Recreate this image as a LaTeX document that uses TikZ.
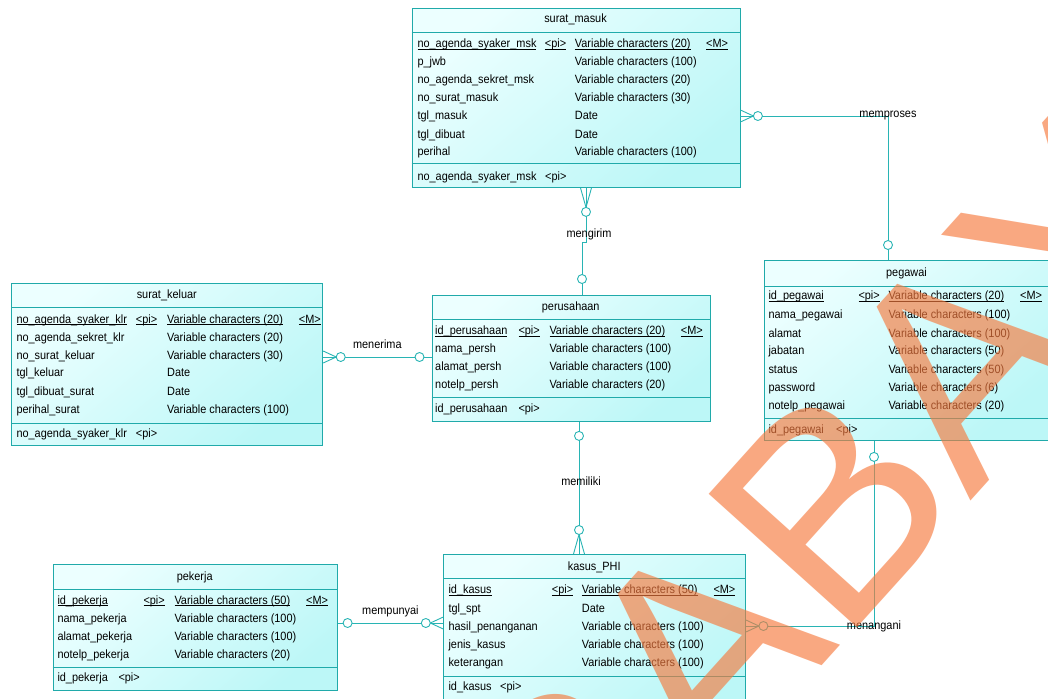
\documentclass[tikz,border=0pt]{standalone}
\usepackage{fontspec}
\setmainfont{Liberation Sans}[FakeStretch=0.91]
\newfontfamily\wmfont{Liberation Sans}
\usetikzlibrary{calc}
\definecolor{edgec}{RGB}{32,170,170}
\definecolor{lnk}{RGB}{40,180,180}
\definecolor{fillA}{RGB}{236,255,255}
\definecolor{fillB}{RGB}{188,247,247}
\definecolor{wmark}{RGB}{246,122,62}
\newcommand\ulbox[1]{\setbox0\hbox{#1}\rlap{\rule[-2pt]{\wd0}{0.6pt}}\box0}
\newcommand\setcols[4]{\def\cxn{#1}\def\cxp{#2}\def\cxt{#3}\def\cxm{#4}}
\newcommand\erow[6]{%
  \node[txt] (#1-n) at (\cxn,#2) {#3};
  \if\relax\detokenize{#4}\relax\else\node[txt] (#1-p) at (\cxp,#2) {#4};\fi
  \node[txt] (#1-t) at (\cxt,#2) {#5};
  \if\relax\detokenize{#6}\relax\else\node[txt] (#1-m) at (\cxm,#2) {#6};\fi
}
\newcommand\idrow[4]{%
  \node[txt] (#1-n) at (\cxn,#2) {#3};
  \node[txt] (#1-p) at (#4,#2) {<pi>};
}
\begin{document}
\begin{tikzpicture}[x=1pt,y=-1pt,
  entity/.style={draw=edgec, line width=0.9pt, rectangle, inner sep=0pt, anchor=north west,
     top color=fillA, bottom color=fillB, shading angle=40},
  sepline/.style={draw=edgec, line width=0.9pt},
  txt/.style={anchor=west, inner sep=0pt, text height=8pt, text depth=2pt, font=\fontsize{12}{14}\selectfont},
  ttl/.style={anchor=center, inner sep=0pt, text height=8pt, text depth=2pt, font=\fontsize{12}{14}\selectfont},
  link/.style={draw=lnk, line width=0.9pt},
  opt/.style={draw=lnk, line width=0.9pt, fill=white},
  rel/.style={inner sep=0pt, font=\fontsize{12}{14}\selectfont},
]
\useasboundingbox[fill=white] (0,0) rectangle (1048,698);

% ---------------- entities ----------------
\node[entity, minimum width=328pt, minimum height=179pt] (sm) at (411.5,8) {};
\node[entity, minimum width=311pt, minimum height=162pt] (sk) at (11.3,283) {};
\node[entity, minimum width=278.5pt, minimum height=126pt] (pu) at (431.5,295) {};
\node[entity, minimum width=285pt, minimum height=180pt] (pg) at (764,260) {};
\node[entity, minimum width=284pt, minimum height=126pt] (pk) at (52.7,564) {};
\node[entity, minimum width=301.7pt, minimum height=160pt] (ks) at (443.3,554) {};

% separators
\draw[sepline] ([yshift=-24pt]sm.north west) -- ([yshift=-24pt]sm.north east);
\draw[sepline] ([yshift=-155pt]sm.north west) -- ([yshift=-155pt]sm.north east);
\draw[sepline] ([yshift=-24.5pt]sk.north west) -- ([yshift=-24.5pt]sk.north east);
\draw[sepline] ([yshift=-140.5pt]sk.north west) -- ([yshift=-140.5pt]sk.north east);
\draw[sepline] ([yshift=-24.5pt]pu.north west) -- ([yshift=-24.5pt]pu.north east);
\draw[sepline] ([yshift=-102.5pt]pu.north west) -- ([yshift=-102.5pt]pu.north east);
\draw[sepline] ([yshift=-26pt]pg.north west) -- ([yshift=-26pt]pg.north east);
\draw[sepline] ([yshift=-158.5pt]pg.north west) -- ([yshift=-158.5pt]pg.north east);
\draw[sepline] ([yshift=-25pt]pk.north west) -- ([yshift=-25pt]pk.north east);
\draw[sepline] ([yshift=-103pt]pk.north west) -- ([yshift=-103pt]pk.north east);
\draw[sepline] ([yshift=-24.5pt]ks.north west) -- ([yshift=-24.5pt]ks.north east);
\draw[sepline] ([yshift=-122pt]ks.north west) -- ([yshift=-122pt]ks.north east);

% ---------------- titles ----------------
\node[ttl] (sm-title) at (575.5,20) {surat\_masuk};
\node[ttl] (sk-title) at (166.8,295) {surat\_keluar};
\node[ttl] (pu-title) at (570.7,307) {perusahaan};
\node[ttl] (pg-title) at (906.5,273) {pegawai};
\node[ttl] (pk-title) at (194.7,577) {pekerja};
\node[ttl] (ks-title) at (594.2,567) {kasus\_PHI};

% ---------------- surat_masuk ----------------
\setcols{417.3}{544.7}{574.7}{706}
\erow{sm1}{44.3}{\ulbox{no\_agenda\_syaker\_msk}}{\ulbox{<pi>}}{\ulbox{Variable characters (20)}}{\ulbox{<M>}}
\erow{sm2}{62.7}{p\_jwb}{}{Variable characters (100)}{}
\erow{sm3}{80.7}{no\_agenda\_sekret\_msk}{}{Variable characters (20)}{}
\erow{sm4}{99}{no\_surat\_masuk}{}{Variable characters (30)}{}
\erow{sm5}{116.7}{tgl\_masuk}{}{Date}{}
\erow{sm6}{135}{tgl\_dibuat}{}{Date}{}
\erow{sm7}{152.7}{perihal}{}{Variable characters (100)}{}
\idrow{sm8}{177.7}{no\_agenda\_syaker\_msk}{545}

% ---------------- surat_keluar ----------------
\setcols{16.3}{135.7}{167}{298.7}
\erow{sk1}{320}{\ulbox{no\_agenda\_syaker\_klr}}{\ulbox{<pi>}}{\ulbox{Variable characters (20)}}{\ulbox{<M>}}
\erow{sk2}{338.3}{no\_agenda\_sekret\_klr}{}{Variable characters (20)}{}
\erow{sk3}{356}{no\_surat\_keluar}{}{Variable characters (30)}{}
\erow{sk4}{373.7}{tgl\_keluar}{}{Date}{}
\erow{sk5}{392}{tgl\_dibuat\_surat}{}{Date}{}
\erow{sk6}{410}{perihal\_surat}{}{Variable characters (100)}{}
\idrow{sk7}{434.5}{no\_agenda\_syaker\_klr}{135.7}

% ---------------- perusahaan ----------------
\setcols{435}{518.3}{549.3}{680.7}
\erow{pu1}{331.7}{\ulbox{id\_perusahaan}}{\ulbox{<pi>}}{\ulbox{Variable characters (20)}}{\ulbox{<M>}}
\erow{pu2}{349.3}{nama\_persh}{}{Variable characters (100)}{}
\erow{pu3}{367.3}{alamat\_persh}{}{Variable characters (100)}{}
\erow{pu4}{385.7}{notelp\_persh}{}{Variable characters (20)}{}
\idrow{pu5}{409}{id\_perusahaan}{518.3}

% ---------------- pegawai ----------------
\setcols{768.3}{858.3}{888.3}{1020}
\erow{pg1}{296.7}{\ulbox{id\_pegawai}}{\ulbox{<pi>}}{\ulbox{Variable characters (20)}}{\ulbox{<M>}}
\erow{pg2}{315}{nama\_pegawai}{}{Variable characters (100)}{}
\erow{pg3}{334}{alamat}{}{Variable characters (100)}{}
\erow{pg4}{351.7}{jabatan}{}{Variable characters (50)}{}
\erow{pg5}{370}{status}{}{Variable characters (50)}{}
\erow{pg6}{388.3}{password}{}{Variable characters (6)}{}
\erow{pg7}{406.7}{notelp\_pegawai}{}{Variable characters (20)}{}
\idrow{pg8}{430.7}{id\_pegawai}{836}

% ---------------- pekerja ----------------
\setcols{57.3}{143.3}{174.3}{306}
\erow{pk1}{601}{\ulbox{id\_pekerja}}{\ulbox{<pi>}}{\ulbox{Variable characters (50)}}{\ulbox{<M>}}
\erow{pk2}{619.3}{nama\_pekerja}{}{Variable characters (100)}{}
\erow{pk3}{637.3}{alamat\_pekerja}{}{Variable characters (100)}{}
\erow{pk4}{655}{notelp\_pekerja}{}{Variable characters (20)}{}
\idrow{pk5}{678.3}{id\_pekerja}{118.3}

% ---------------- kasus_PHI ----------------
\setcols{448.3}{551.7}{581.7}{713.3}
\erow{ks1}{590.7}{\ulbox{id\_kasus}}{\ulbox{<pi>}}{\ulbox{Variable characters (50)}}{\ulbox{<M>}}
\erow{ks2}{609.3}{tgl\_spt}{}{Date}{}
\erow{ks3}{627.3}{hasil\_penanganan}{}{Variable characters (100)}{}
\erow{ks4}{645.7}{jenis\_kasus}{}{Variable characters (100)}{}
\erow{ks5}{663.3}{keterangan}{}{Variable characters (100)}{}
\idrow{ks6}{687.3}{id\_kasus}{500}

% ---------------- relationships ----------------
% memproses
\coordinate (mpA) at ([yshift=-108pt]sm.north east);
\coordinate (mpB) at ([xshift=124pt]pg.north west);
\draw[link] (mpA) -| (mpB);
\draw[link] ([yshift=6pt]mpA) -- ++(13,6) -- ([yshift=-6pt]mpA);
\draw[opt] ($(mpA)+(17.5,0)$) circle (4.5pt);
\draw[opt] ($(mpB)+(0,-15)$) circle (4.5pt);
\node[rel] (l-memproses) at (mpA -| mpB) {memproses};

% mengirim
\coordinate (mgA) at ([xshift=174.5pt]sm.south west);
\coordinate (mgB) at ([xshift=150.5pt]pu.north west);
\draw[link] (mgA) -- ($(mgA)+(0,55)$) -| (mgB);
\draw[link] ([xshift=-5.5pt]mgA) -- ++(5.5,19.5) -- ([xshift=5.5pt]mgA);
\draw[opt] ($(mgA)+(0,24)$) circle (4.5pt);
\draw[opt] ($(mgB)+(0,-16)$) circle (4.5pt);
\node[rel] (l-mengirim) at ($(mgA)+(3,46)$) {mengirim};

% menerima
\coordinate (mnA) at ([yshift=-74pt]sk.north east);
\coordinate (mnB) at (pu.west |- mnA);
\draw[link] (mnA) -- (mnB);
\draw[link] ([yshift=6pt]mnA) -- ++(13,6) -- ([yshift=-6pt]mnA);
\draw[opt] ($(mnA)+(17.5,0)$) circle (4.5pt);
\draw[opt] ($(mnB)+(-12,0)$) circle (4.5pt);
\node[rel] (l-menerima) at ($(mnA)!0.5!(mnB)+(0,-13)$) {menerima};

% memiliki
\coordinate (mlA) at ([xshift=147.5pt]pu.south west);
\coordinate (mlB) at (mlA |- ks.north);
\draw[link] (mlA) -- (mlB);
\draw[opt] ($(mlA)+(0,14)$) circle (4.5pt);
\draw[link] ([xshift=-5.5pt]mlB) -- ++(5.5,-19.5) -- ([xshift=5.5pt]mlB);
\draw[opt] ($(mlB)+(0,-24)$) circle (4.5pt);
\node[rel] (l-memiliki) at ($(mlA)+(2,59)$) {memiliki};

% mempunyai
\coordinate (mpuA) at ([yshift=-59pt]pk.north east);
\coordinate (mpuB) at (ks.west |- mpuA);
\draw[link] (mpuA) -- (mpuB);
\draw[opt] ($(mpuA)+(10,0)$) circle (4.5pt);
\draw[link] ([yshift=6pt]mpuB) -- ++(-13,6) -- ([yshift=-6pt]mpuB);
\draw[opt] ($(mpuB)+(-17.5,0)$) circle (4.5pt);
\node[rel] (l-mempunyai) at ($(mpuA)!0.5!(mpuB)+(0,-12)$) {mempunyai};

% menangani
\coordinate (mgnA) at ([yshift=-72pt]ks.north east);
\coordinate (mgnB) at ([xshift=110pt]pg.south west);
\draw[link] (mgnA) -| (mgnB);
\draw[link] ([yshift=6pt]mgnA) -- ++(13,6) -- ([yshift=-6pt]mgnA);
\draw[opt] ($(mgnA)+(17.5,0)$) circle (4.5pt);
\draw[opt] ($(mgnB)+(0,16)$) circle (4.5pt);
\node[rel] (l-menangani) at (mgnA -| mgnB) {menangani};

% ---------------- watermark ----------------
\begin{scope}
\clip (0,0) rectangle (1048,698);
\node[rotate=48, text=wmark, opacity=0.65, inner sep=0pt, font=\wmfont\fontsize{290}{290}\selectfont] (wm) at (742,606) {SURABAYA};
\end{scope}
\end{tikzpicture}
\end{document}
